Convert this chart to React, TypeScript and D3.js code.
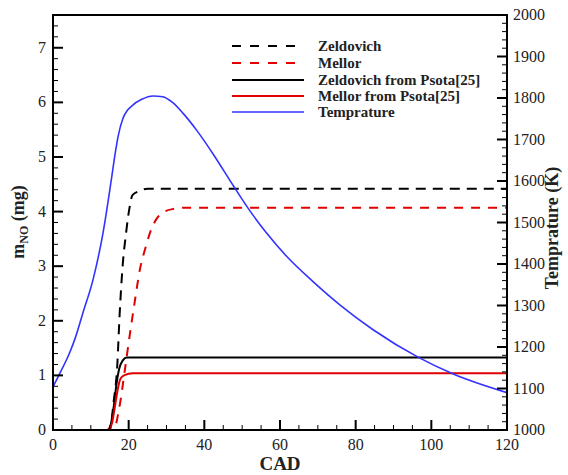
import React from "react";
import * as d3 from "d3";

const zeldX = [0, 15, 16, 17, 17.6, 18.4, 19.3, 20.3, 21, 23, 25, 120];
const zeldY = [0, 0, 0.5, 1.2, 2.1, 3.0, 3.6, 4.1, 4.3, 4.38, 4.42, 4.42];

const mellX = [0, 16, 17.5, 19, 20, 21.5, 23, 24.5, 26, 27.5, 29.5, 32, 35, 120];
const mellY = [0, 0, 0.4, 1.1, 1.6, 2.3, 2.95, 3.35, 3.68, 3.88, 4.0, 4.05, 4.07, 4.07];

const zeldPsX = [14.5, 15.2, 16, 16.8, 17.5, 18.5, 19.5, 120];
const zeldPsY = [0, 0.08, 0.4, 0.85, 1.12, 1.28, 1.33, 1.33];

const mellPsX = [14.5, 15.5, 16.3, 17, 17.7, 18.5, 20, 21, 120];
const mellPsY = [0, 0.1, 0.4, 0.7, 0.92, 0.99, 1.03, 1.04, 1.04];

const tempX = [0, 2, 4.4, 6, 7.9, 10.6, 13.2, 15.4, 16.5, 17.2, 18.5, 21.1, 23.5, 26.4, 29, 31.5, 34.4, 38, 42.4, 47.7, 51.6, 56.5, 61.8, 68.8, 75.9, 84.7, 96.6, 105.8, 120];
const tempY = [1104, 1140, 1186, 1225, 1282, 1363, 1474, 1602, 1670, 1707, 1751, 1783, 1797, 1805, 1803, 1790, 1763, 1722, 1664, 1588, 1534, 1474, 1418, 1357, 1301, 1241, 1175, 1135, 1090];

const xTicks = [0, 20, 40, 60, 80, 100, 120];
const yTicks = [0, 1, 2, 3, 4, 5, 6, 7];
const tTicks = [1000, 1100, 1200, 1300, 1400, 1500, 1600, 1700, 1800, 1900, 2000];

const legendLabels = ["Zeldovich", "Mellor", "Zeldovich from Psota[25]", "Mellor from Psota[25]", "Temprature"];

const L = 53, R = 507, T = 15, B = 430;

export default function App() {
  const x = d3.scaleLinear().domain([0, 120]).range([L, R]);
  const y = d3.scaleLinear().domain([0, 7.6]).range([B, T]);
  const yt = d3.scaleLinear().domain([1000, 2000]).range([B, T]);

  const mk = (xs: number[], ys: number[], sc: d3.ScaleLinear<number, number>) =>
    d3.line<number>().x((_, i) => x(xs[i])).y((_, i) => sc(ys[i])).curve(d3.curveMonotoneX)(xs) || "";

  const series = [
    { d: mk(zeldX, zeldY, y), color: "#000", dash: "10,7", w: 2 },
    { d: mk(mellX, mellY, y), color: "#e00000", dash: "9,8", w: 2 },
    { d: mk(zeldPsX, zeldPsY, y), color: "#000", dash: "", w: 2 },
    { d: mk(mellPsX, mellPsY, y), color: "#e00000", dash: "", w: 2 },
    { d: mk(tempX, tempY, yt), color: "#3333ff", dash: "", w: 1.6 },
  ];

  const xMinor = d3.range(0, 121, 5);
  const yMinor = d3.range(0, 7.61, 0.2);
  const tMinor = d3.range(1000, 2001, 20);
  const font = "'Liberation Serif', 'Times New Roman', serif";

  const legY = [46, 63, 80, 96, 112];

  return (
    <svg width={568} height={475} style={{ position: "absolute", left: 0, top: 0, background: "#fff" }} fontFamily={font}>
      <rect width={568} height={475} fill="#fff" />
      <defs>
        <clipPath id="plot">
          <rect x={L} y={T} width={R - L} height={B - T} />
        </clipPath>
      </defs>
      <g clipPath="url(#plot)" fill="none">
        {series.map((s, i) => (
          <path key={i} d={s.d} stroke={s.color} strokeWidth={s.w} strokeDasharray={s.dash || undefined} />
        ))}
      </g>
      <g stroke="#000">
        {xMinor.map((v) => (
          <line key={"xm" + v} x1={x(v)} x2={x(v)} y1={B} y2={B - (v % 20 === 0 ? 10 : 5)} strokeWidth={v % 20 === 0 ? 2 : 1} />
        ))}
        {yMinor.map((v, i) => (
          <line key={"ym" + i} x1={L} x2={L + (i % 5 === 0 ? 10 : 5)} y1={y(v)} y2={y(v)} strokeWidth={i % 5 === 0 ? 2 : 1} />
        ))}
        {tMinor.map((v, i) => (
          <line key={"tm" + i} x1={R} x2={R - (i % 5 === 0 ? 10 : 5)} y1={yt(v)} y2={yt(v)} strokeWidth={i % 5 === 0 ? 2 : 1} />
        ))}
      </g>
      <rect x={L} y={T} width={R - L} height={B - T} fill="none" stroke="#000" strokeWidth={2} />
      <g fontSize={16} fill="#222">
        {xTicks.map((v) => (
          <text key={"xt" + v} x={x(v)} y={B + 20} textAnchor="middle">{v}</text>
        ))}
        {yTicks.map((v) => (
          <text key={"yt" + v} x={L - 7} y={y(v) + 5} textAnchor="end">{v}</text>
        ))}
        {tTicks.map((v) => (
          <text key={"tt" + v} x={R + 6} y={yt(v) + 5} textAnchor="start">{v}</text>
        ))}
      </g>
      <text x={(L + R) / 2} y={470} textAnchor="middle" fontSize={19} fontWeight="bold" fill="#222">CAD</text>
      <text transform={`translate(24, ${222}) rotate(-90)`} textAnchor="middle" fontSize={18} fontWeight="bold" fill="#222">
        m<tspan fontSize={12} dy={4}>NO</tspan><tspan dy={-4}> (mg)</tspan>
      </text>
      <text transform={`translate(558, ${228}) rotate(-90)`} textAnchor="middle" fontSize={18} fontWeight="bold" fill="#222">Temprature (K)</text>
      <g>
        {series.map((s, i) => (
          <g key={"lg" + i}>
            <line x1={232} x2={304} y1={legY[i]} y2={legY[i]} stroke={s.color} strokeWidth={s.w} strokeDasharray={s.dash ? "9,9" : undefined} />
            <text x={318} y={legY[i] + 5} fontSize={15} fontWeight="bold" fill="#222">{legendLabels[i]}</text>
          </g>
        ))}
      </g>
    </svg>
  );
}
